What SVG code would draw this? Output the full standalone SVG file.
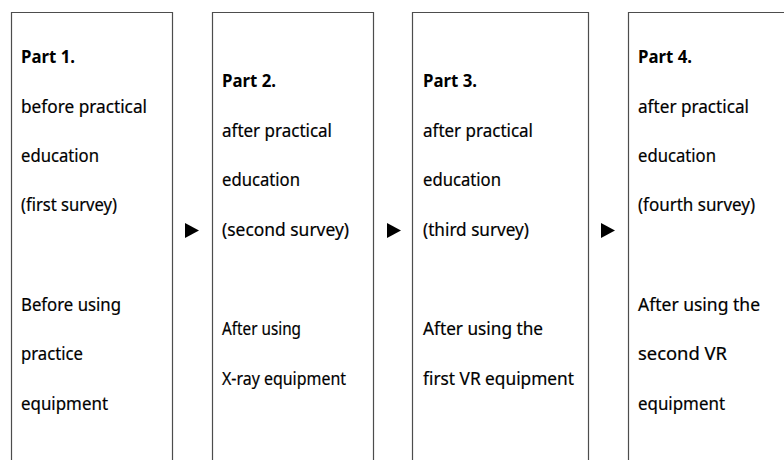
<svg xmlns="http://www.w3.org/2000/svg" width="784" height="460" viewBox="0 0 784 460">
<style>
.box{fill:none;stroke:#4d4d4d;stroke-width:1.2}
text{font-family:"Noto Sans","Open Sans","Liberation Sans",sans-serif;font-size:18px;fill:#000;stroke:#000;stroke-width:0.2}
.b{font-weight:bold;stroke-width:0}
.arrow{fill:#000}
</style>
<rect width="784" height="460" fill="#fff"/>
<g id="part1">
<path class="box" d="M11.5,470 V12.5 H172.5 V470"/>
<text class="b" x="21" y="63" textLength="54" lengthAdjust="spacingAndGlyphs">Part 1.</text>
<text x="21" y="113" textLength="126" lengthAdjust="spacingAndGlyphs">before practical</text>
<text x="21" y="162" textLength="78" lengthAdjust="spacingAndGlyphs">education</text>
<text x="21" y="211" textLength="96" lengthAdjust="spacingAndGlyphs">(first survey)</text>
<text x="21" y="311" textLength="100" lengthAdjust="spacingAndGlyphs">Before using</text>
<text x="21" y="360" textLength="62" lengthAdjust="spacingAndGlyphs">practice</text>
<text x="21" y="410" textLength="87" lengthAdjust="spacingAndGlyphs">equipment</text>
</g>
<g id="part2">
<path class="box" d="M212.5,470 V12.5 H373.5 V470"/>
<text class="b" x="222" y="87" textLength="54" lengthAdjust="spacingAndGlyphs">Part 2.</text>
<text x="222" y="137" textLength="110" lengthAdjust="spacingAndGlyphs">after practical</text>
<text x="222" y="186" textLength="78" lengthAdjust="spacingAndGlyphs">education</text>
<text x="222" y="236" textLength="127" lengthAdjust="spacingAndGlyphs">(second survey)</text>
<text x="222" y="335" textLength="79" lengthAdjust="spacingAndGlyphs">After using</text>
<text x="222" y="385" textLength="124" lengthAdjust="spacingAndGlyphs">X-ray equipment</text>
</g>
<g id="part3">
<path class="box" d="M412.5,470 V12.5 H588.5 V470"/>
<text class="b" x="423" y="87" textLength="54" lengthAdjust="spacingAndGlyphs">Part 3.</text>
<text x="423" y="137" textLength="110" lengthAdjust="spacingAndGlyphs">after practical</text>
<text x="423" y="186" textLength="78" lengthAdjust="spacingAndGlyphs">education</text>
<text x="423" y="236" textLength="106" lengthAdjust="spacingAndGlyphs">(third survey)</text>
<text x="423" y="335" textLength="120" lengthAdjust="spacingAndGlyphs">After using the</text>
<text x="423" y="385" textLength="151" lengthAdjust="spacingAndGlyphs">first VR equipment</text>
</g>
<g id="part4">
<path class="box" d="M628.5,470 V12.5 H800"/>
<text class="b" x="638" y="63" textLength="54" lengthAdjust="spacingAndGlyphs">Part 4.</text>
<text x="638" y="113" textLength="111" lengthAdjust="spacingAndGlyphs">after practical</text>
<text x="638" y="162" textLength="78" lengthAdjust="spacingAndGlyphs">education</text>
<text x="638" y="211" textLength="117" lengthAdjust="spacingAndGlyphs">(fourth survey)</text>
<text x="638" y="311" textLength="122" lengthAdjust="spacingAndGlyphs">After using the</text>
<text x="638" y="360" textLength="89" lengthAdjust="spacingAndGlyphs">second VR</text>
<text x="638" y="410" textLength="87" lengthAdjust="spacingAndGlyphs">equipment</text>
</g>
<g id="connectors">
<polygon class="arrow" points="185,223 199,230.5 185,238"/>
<polygon class="arrow" points="387,223 401,230.5 387,238"/>
<polygon class="arrow" points="601,223 615,230.5 601,238"/>
</g>
</svg>
